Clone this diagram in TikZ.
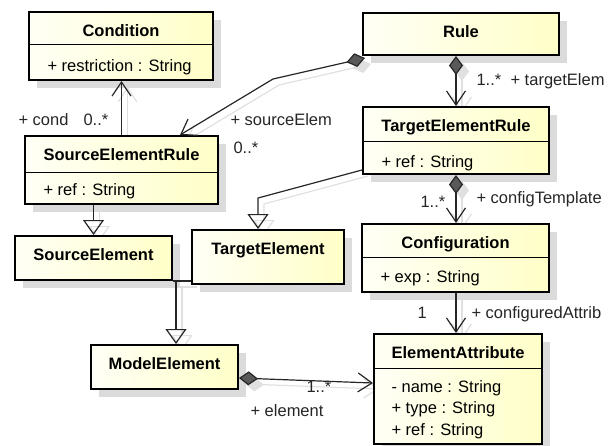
\documentclass[tikz,border=0pt]{standalone}
\usepackage{fontspec}
\setmainfont{Liberation Sans}
\usetikzlibrary{arrows.meta,calc,shadows,backgrounds}

\definecolor{clsleft}{HTML}{FFFFF6}
\definecolor{clsright}{HTML}{FFFFC8}

\tikzset{
  cls/.style={draw, line width=2pt, anchor=north west, inner sep=0pt,
    left color=clsleft, right color=clsright,
    drop shadow={shadow xshift=8pt, shadow yshift=-8pt, fill=black!14, opacity=1}},
  clsname/.style={anchor=base, font=\fontsize{16.5}{20}\selectfont\bfseries},
  attr/.style={anchor=base west},
  sep/.style={line width=0.9pt},
  role/.style={anchor=base west, text=black!85},
  line/.style={line width=1.2pt, draw=black!85},
  assoc/.style={line, -{Straight Barb[length=14pt,width=19pt]}},
  comp/.style={line, {Diamond[length=19pt,width=14pt,fill=black!65]}-{Straight Barb[length=14pt,width=19pt]}},
  gen/.style={line, -{Triangle[open,length=15pt,width=21pt]}},
  % graue Schatten der Verbindungen
  shline/.style={line width=1.2pt, black!12},
  assocsh/.style={shline, -{Straight Barb[length=14pt,width=19pt]}},
  compsh/.style={shline, {Diamond[length=19pt,width=14pt]}-{Straight Barb[length=14pt,width=19pt]}},
  gensh/.style={shline, -{Triangle[open,length=15pt,width=21pt]}},
}

\begin{document}
\begin{tikzpicture}[x=1pt, y=-1pt, font=\fontsize{16.5}{20}\selectfont]
  \useasboundingbox (0,0) rectangle (613,445);

  % Klassen
  \node[cls, minimum width=184pt, minimum height=68pt] (condition) at (28,11) {};
  \draw[sep] ([yshift=-33pt]condition.north west) -- ([yshift=-33pt]condition.north east);
  \node[clsname] (condition-n) at ([yshift=-25.5pt]condition.north) {Condition};
  \node[attr] (condition-a) at ([xshift=16pt,yshift=-60pt]condition.north west) {+ restriction : String};

  \node[cls, minimum width=193pt, minimum height=68pt] (srcrule) at (24,135) {};
  \draw[sep] ([yshift=-37pt]srcrule.north west) -- ([yshift=-37pt]srcrule.north east);
  \node[clsname] (srcrule-n) at ([yshift=-25.5pt]srcrule.north) {SourceElementRule};
  \node[attr] (srcrule-a) at ([xshift=16pt,yshift=-60pt]srcrule.north west) {+ ref : String};

  \node[cls, minimum width=196pt, minimum height=42pt] (rule) at (362,12) {};
  \node[clsname] (rule-n) at ([yshift=-25.5pt]rule.north) {Rule};

  \node[cls, minimum width=186pt, minimum height=67pt] (tgtrule) at (362,106) {};
  \draw[sep] ([yshift=-35pt]tgtrule.north west) -- ([yshift=-35pt]tgtrule.north east);
  \node[clsname] (tgtrule-n) at ([yshift=-25.5pt]tgtrule.north) {TargetElementRule};
  \node[attr] (tgtrule-a) at ([xshift=16pt,yshift=-61pt]tgtrule.north west) {+ ref : String};

  \node[cls, minimum width=187pt, minimum height=68pt] (config) at (361,223) {};
  \draw[sep] ([yshift=-34pt]config.north west) -- ([yshift=-34pt]config.north east);
  \node[clsname] (config-n) at ([yshift=-25.5pt]config.north) {Configuration};
  \node[attr] (config-a) at ([xshift=16pt,yshift=-59pt]config.north west) {+ exp : String};

  \node[cls, minimum width=168pt, minimum height=110pt] (elattr) at (373,333) {};
  \draw[sep] ([yshift=-35pt]elattr.north west) -- ([yshift=-35pt]elattr.north east);
  \node[clsname] (elattr-n) at ([yshift=-25.5pt]elattr.north) {ElementAttribute};
  \foreach \a [count=\i from 0] in {- name : String, + type : String, + ref : String}
    \node[attr] (elattr-a\i) at ([xshift=15pt,yshift=-59pt-21.5pt*\i]elattr.north west) {\a};

  \node[cls, minimum width=157pt, minimum height=44pt] (srcel) at (14,235) {};
  \node[clsname] (srcel-n) at ([yshift=-25.5pt]srcel.north) {SourceElement};

  \node[cls, minimum width=152pt, minimum height=54pt] (tgtel) at (191,229) {};
  \node[clsname] (tgtel-n) at ([yshift=-25.5pt]tgtel.north) {TargetElement};

  \node[cls, minimum width=147pt, minimum height=44pt] (modelel) at (90,344) {};
  \node[clsname] (modelel-n) at ([yshift=-25.5pt]modelel.north) {ModelElement};

  % Hilfspunkte
  \coordinate (col) at (456,0);
  \coordinate (srcbend) at (273,79);
  \coordinate (tgtbend) at (258,198);
  \coordinate (genjoin) at (176,281);

  % Verbindungen
  \draw[assoc] (srcrule.north) -- (srcrule.north |- condition.south);
  \draw[comp] ([xshift=3pt,yshift=-2pt]rule.south west) -- (srcbend)
    -- ($(srcrule.north west)!0.8!(srcrule.north east)$);
  \draw[comp] (col |- rule.south) -- (col |- tgtrule.north);
  \draw[comp] (col |- tgtrule.south) -- (col |- config.north);
  \draw[assoc] (col |- config.south) -- (col |- elattr.north);
  \draw[comp] ([yshift=-34pt]modelel.north east) -- ([yshift=-50pt]elattr.north west);
  \draw[gen] (srcel.north |- srcrule.south) -- (srcel.north);
  \draw[gen] ([yshift=5pt]tgtrule.south west) -- (tgtbend) -- (tgtbend |- tgtel.north);
  \draw[line] (srcel.east |- genjoin) -- (tgtel.west |- genjoin);
  \draw[gen] (genjoin) -- (genjoin |- modelel.north);

  % Schatten
  \begin{pgfonlayer}{background}
    \begin{scope}[transform canvas={xshift=6pt,yshift=-6pt}]
      \draw[assocsh] (srcrule.north) -- (srcrule.north |- condition.south);
      \draw[compsh] ([xshift=3pt,yshift=-2pt]rule.south west) -- (srcbend)
        -- ($(srcrule.north west)!0.8!(srcrule.north east)$);
      \draw[compsh] (col |- rule.south) -- (col |- tgtrule.north);
      \draw[compsh] (col |- tgtrule.south) -- (col |- config.north);
      \draw[assocsh] (col |- config.south) -- (col |- elattr.north);
      \draw[compsh] ([yshift=-34pt]modelel.north east) -- ([yshift=-50pt]elattr.north west);
      \draw[gensh] (srcel.north |- srcrule.south) -- (srcel.north);
      \draw[gensh] ([yshift=5pt]tgtrule.south west) -- (tgtbend) -- (tgtbend |- tgtel.north);
      \draw[shline] (srcel.east |- genjoin) -- (tgtel.west |- genjoin);
      \draw[gensh] (genjoin) -- (genjoin |- modelel.north);
    \end{scope}
  \end{pgfonlayer}

  % Rollen und Multiplizitaeten
  \node[role] (cond-role) at (15,125) {+ cond};
  \node[role] (cond-mult) at (80,125) {0..*};
  \node[role] (src-role) at (227,125) {+ sourceElem};
  \node[role] (src-mult) at (230,153) {0..*};
  \node[role] (tgt-mult) at (473,85) {1..*};
  \node[role] (tgt-role) at (507,85) {+ targetElem};
  \node[role] (cfg-mult) at (417,207) {1..*};
  \node[role] (cfg-role) at (473,203) {+ configTemplate};
  \node[role] (attr-mult) at (414,318) {1};
  \node[role] (attr-role) at (468,318) {+ configuredAttrib};
  \node[role] (el-mult) at (303,392) {1..*};
  \node[role] (el-role) at (247,416) {+ element};
\end{tikzpicture}
\end{document}
